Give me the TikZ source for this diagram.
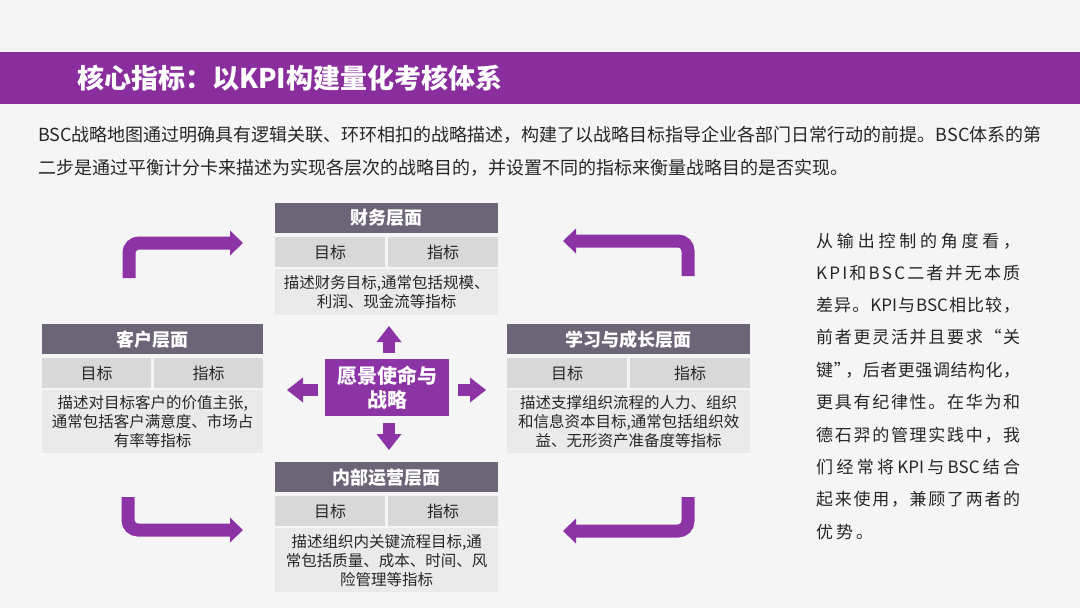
\documentclass[tikz,border=0pt]{standalone}
\usepackage{fontspec}
\setmainfont{Noto Sans CJK SC}
\definecolor{bg}{HTML}{F5F5F5}
\definecolor{titlec}{HTML}{8A2E9E}
\definecolor{arrowc}{HTML}{8C33A6}
\definecolor{hdrc}{HTML}{6C6477}
\definecolor{cellc}{HTML}{D8D8D8}
\definecolor{descc}{HTML}{EAEAEA}
\definecolor{txt}{HTML}{262626}
\makeatletter
\newcommand\jline[1]{\hbox to 204pt{\@tfor\@c:=#1\do{\@c\hfil}\unskip}}
\makeatother
\newcommand\bscbox[7]{%
  \node[hdr, minimum width=#4, anchor=north west] (#1h) at (#2,#3) {#5};
  \pgfmathsetmacro\halfw{(#4-3)/2}
  \node[cell, minimum width=\halfw, anchor=north west] (#1a) at (#2,#3+34) {目标};
  \node[cell, minimum width=\halfw, anchor=north west] (#1b) at (#2+\halfw+3,#3+34) {指标};
  \node[desc, minimum width=#4, minimum height=#7, anchor=north west] (#1d) at (#2,#3+66) {#6};
}
\begin{document}
\begin{tikzpicture}[x=1pt,y=-1pt,
  hdr/.style={fill=hdrc, text=white, font=\bfseries\fontsize{18}{20}\selectfont, minimum height=30, inner sep=0},
  cell/.style={fill=cellc, text=txt, font=\fontsize{16}{18}\selectfont, minimum height=30, inner sep=0},
  desc/.style={fill=descc, text=txt, align=center, font=\fontsize{15.5}{19}\selectfont, inner sep=0},
  ctr/.style={fill=arrowc, text=white, align=center, font=\bfseries\fontsize{20}{24}\selectfont, inner sep=0},
  shaft/.style={draw=arrowc, line width=13pt, rounded corners=10pt},
  sshaft/.style={draw=arrowc, line width=12pt},
  head/.style={fill=arrowc},
  para/.style={anchor=west, text=txt, font=\fontsize{18}{22}\selectfont, inner sep=0},
  side/.style={anchor=west, text=txt, font=\fontsize{17}{20}\selectfont, inner sep=0}]
\fill[bg] (0,0) rectangle (1080,608);
\useasboundingbox (0,0) rectangle (1080,608);
\fill[titlec] (0,52) rectangle (1080,104);
\node[anchor=west, text=white, font=\bfseries\fontsize{27}{30}\selectfont, inner sep=0] (title) at (77,78) {核心指标：以KPI构建量化考核体系};
\node[para] (p1) at (38,135) {BSC战略地图通过明确具有逻辑关联、环环相扣的战略描述，构建了以战略目标指导企业各部门日常行动的前提。BSC体系的第};
\node[para] (p2) at (38,168) {二步是通过平衡计分卡来描述为实现各层次的战略目的，并设置不同的指标来衡量战略目的是否实现。};

\bscbox{fin}{275}{203}{223}{财务层面}{描述财务目标,通常包括规模、\\利润、现金流等指标}{46}
\bscbox{cus}{42}{324}{221}{客户层面}{描述对目标客户的价值主张,\\通常包括客户满意度、市场占\\有率等指标}{63}
\bscbox{lrn}{507}{324}{243}{学习与成长层面}{描述支撑组织流程的人力、组织\\和信息资本目标,通常包括组织效\\益、无形资产准备度等指标}{63}
\bscbox{ops}{275}{462}{223}{内部运营层面}{描述组织内关键流程目标,通\\常包括质量、成本、时间、风\\险管理等指标}{64}

\node[ctr, minimum width=124, minimum height=57, anchor=north west] (ctr) at (325,359) {愿景使命与\\战略};

% centre arrows
\coordinate (u0) at (389,353); \coordinate (u1) at (389,341); \coordinate (u2) at (389,326);
\draw[sshaft] (u0) -- (u1); \fill[head] (u2) -- (376.5,342) -- (401.5,342) -- cycle;
\coordinate (d0) at (389,423); \coordinate (d1) at (389,435); \coordinate (d2) at (389,450);
\draw[sshaft] (d0) -- (d1); \fill[head] (d2) -- (376.5,434) -- (401.5,434) -- cycle;
\coordinate (r0) at (458,390); \coordinate (r1) at (471,390); \coordinate (r2) at (486,390);
\draw[sshaft] (r0) -- (r1); \fill[head] (r2) -- (470,377.5) -- (470,402.5) -- cycle;
\coordinate (l0) at (318,390); \coordinate (l1) at (302,390); \coordinate (l2) at (287,390);
\draw[sshaft] (l0) -- (l1); \fill[head] (l2) -- (303,377.5) -- (303,402.5) -- cycle;

% corner arrows
\coordinate (a0) at (129,278); \coordinate (a1) at (231,243); \coordinate (a2) at (243,243);
\draw[shaft] (a0) |- (a1); \fill[head] (a2) -- (230,230.5) -- (230,255.5) -- cycle;
\coordinate (b0) at (688,276); \coordinate (b1) at (575,241); \coordinate (b2) at (563,241);
\draw[shaft] (b0) |- (b1); \fill[head] (b2) -- (576,228.5) -- (576,253.5) -- cycle;
\coordinate (c0) at (128,497); \coordinate (c1) at (231,530); \coordinate (c2) at (243,530);
\draw[shaft] (c0) |- (c1); \fill[head] (c2) -- (230,517.5) -- (230,542.5) -- cycle;
\coordinate (e0) at (688,497); \coordinate (e1) at (575,531); \coordinate (e2) at (563,531);
\draw[shaft] (e0) |- (e1); \fill[head] (e2) -- (576,518.5) -- (576,543.5) -- cycle;

% side text
\node[side] (s1) at (816,241) {\jline{从输出控制的角度看，}};
\node[side] (s2) at (816,273) {\jline{KPI和BSC二者并无本质}};
\node[side] (s3) at (816,305) {\jline{差异。{KPI}与{BSC}相比较，}};
\node[side] (s4) at (816,337) {\jline{前者更灵活并且要求“关}};
\node[side] (s5) at (816,370) {\jline{键{”\kern-6pt}，后者更强调结构化，}};
\node[side] (s6) at (816,402) {\jline{更具有纪律性。在华为和}};
\node[side] (s7) at (816,435) {\jline{德石羿的管理实践中，我}};
\node[side] (s8) at (816,467) {\jline{们经常将{KPI}与{BSC}结合}};
\node[side] (s9) at (816,499) {\jline{起来使用，兼顾了两者的}};
\node[side] (s10) at (816,532) {优\kern3pt 势\kern3pt 。};
\end{tikzpicture}
\end{document}
